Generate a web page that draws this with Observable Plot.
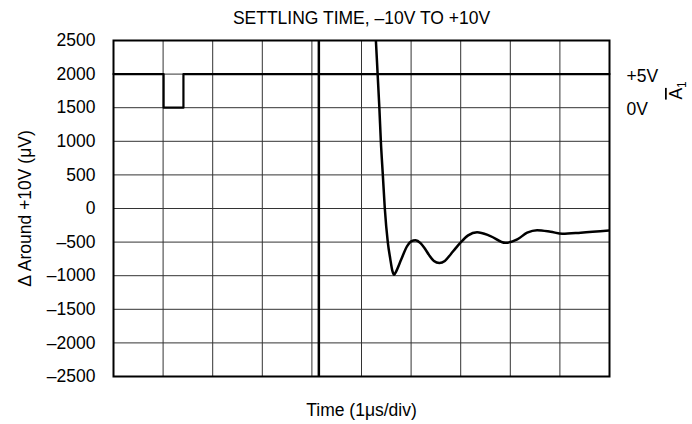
<!DOCTYPE html>
<html>
<head>
<meta charset="utf-8">
<script src="https://cdn.jsdelivr.net/npm/d3@7"></script>
<script src="https://cdn.jsdelivr.net/npm/@observablehq/plot@0.6"></script>
<style>
  html, body { margin: 0; padding: 0; background: #fff; }
  svg { font-family: "Liberation Sans", Arial, sans-serif; }
</style>
</head>
<body>
<div id="chart"></div>
<script>
// ---- data ----
const title = "SETTLING TIME, \u201310V TO +10V";
const xLabel = "Time (1\u03bcs/div)";
const yLabel = "\u0394 Around +10V (\u03bcV)";
const yTicks = [-2500, -2000, -1500, -1000, -500, 0, 500, 1000, 1500, 2000, 2500];
const yTickLabels = ["\u20132500", "\u20132000", "\u20131500", "\u20131000", "\u2013500", "0", "500", "1000", "1500", "2000", "2500"];
const xDivisions = [0, 1, 2, 3, 4, 5, 6, 7, 8, 9, 10];

// digital control signal (A1 trace)
const digitalX = [0, 1.01, 1.01, 1.41, 1.41, 10];
const digitalY = [2000, 2000, 1500, 1500, 2000, 2000];
const rightLabels = ["+5V", "0V"];
const rightLabelLevels = [2000, 1500];

// trigger marker
const markerX = [4.14];

// settling response
const curveX = [5.24, 5.29, 5.325, 5.36, 5.39, 5.43, 5.47, 5.53, 5.58, 5.62, 5.66, 5.70, 5.80, 5.92, 6.00, 6.09, 6.19, 6.28, 6.36, 6.46, 6.57, 6.68, 6.80, 6.90, 7.00, 7.15, 7.33, 7.60, 7.90, 8.14, 8.34, 8.54, 8.81, 9.05, 9.42, 10.0];
const curveY = [3000, 2500, 2000, 1500, 1000, 500, 0, -500, -750, -920, -985, -935, -760, -560, -490, -472, -515, -600, -690, -780, -810, -780, -680, -590, -505, -400, -352, -410, -510, -460, -360, -322, -345, -376, -360, -326];

const curve = curveX.map((x, i) => ({x, y: curveY[i]}));
const digital = digitalX.map((x, i) => ({x, y: digitalY[i]}));
const rightText = rightLabels.map((t, i) => ({t, y: rightLabelLevels[i]}));

const FS = 17.5;

const chart = Plot.plot({
  width: 692,
  height: 424,
  marginLeft: 113,
  marginRight: 83,
  marginTop: 40,
  marginBottom: 48,
  style: {fontFamily: '"Liberation Sans", Arial, sans-serif', fontSize: FS + "px", background: "#fff", color: "#000"},
  x: {domain: [0, 10], axis: null},
  y: {domain: [-2500, 2500], axis: null},
  marks: [
    Plot.ruleX(xDivisions, {stroke: "#333", strokeWidth: 1}),
    Plot.ruleY(yTicks, {stroke: "#333", strokeWidth: 1}),
    Plot.axisY({ticks: yTicks, tickSize: 0, tickPadding: 18, fontSize: FS, label: null,
      tickFormat: (d) => yTickLabels[yTicks.indexOf(d)]}),
    Plot.ruleX(markerX, {stroke: "#000", strokeWidth: 2.5}),
    Plot.line(digital, {x: "x", y: "y", stroke: "#000", strokeWidth: 2.2}),
    Plot.line(curve, {x: "x", y: "y", stroke: "#000", strokeWidth: 2.5, curve: "monotone-x", clip: true}),
    Plot.frame({stroke: "#000", strokeWidth: 2}),
    Plot.text(rightText, {x: () => 10, y: "y", text: "t", dx: 17, dy: 2, textAnchor: "start", fontSize: FS, fill: "#000"}),
    Plot.text([title], {frameAnchor: "top", dy: -22, lineAnchor: "middle", textAnchor: "middle", fontSize: FS, fill: "#000"}),
    Plot.text([xLabel], {frameAnchor: "bottom", dy: 34, lineAnchor: "middle", textAnchor: "middle", fontSize: FS, fill: "#000"}),
    Plot.text([yLabel], {frameAnchor: "left", dx: -88, rotate: -90, lineAnchor: "middle", textAnchor: "middle", fontSize: FS, fill: "#000"})
  ]
});

// A1 (overlined A with subscript 1), rotated label on the right
const xs = chart.scale("x"), ys = chart.scale("y");
const ax = xs.apply(10) + 73, ay = ys.apply(1750);
const t = d3.select(chart).append("text")
  .attr("transform", `translate(${ax},${ay}) rotate(-90)`)
  .attr("text-anchor", "middle")
  .attr("font-size", FS)
  .attr("fill", "#000");
t.append("tspan").style("text-decoration", "overline").text("A");
t.append("tspan").attr("font-size", 12).attr("dy", 4).text("1");

document.getElementById("chart").appendChild(chart);
</script>
</body>
</html>
